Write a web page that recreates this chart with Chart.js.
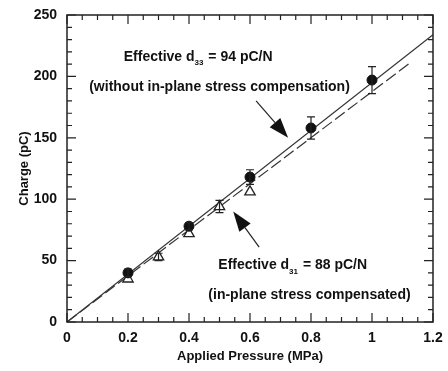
<!DOCTYPE html>
<html>
<head>
<meta charset="utf-8">
<script src="https://cdn.jsdelivr.net/npm/chart.js@4/dist/chart.umd.min.js"></script>
<style>
  html, body { margin: 0; padding: 0; background: #fff; }
  #wrap { width: 448px; height: 371px; }
</style>
</head>
<body>
<div id="wrap"><canvas id="chart"></canvas></div>
<script>
const circPressure = [0.2, 0.4, 0.6, 0.8, 1.0];
const circCharge = [40, 78, 118, 158, 197];
const circErr = [3, 3, 6, 9, 11];

const triPressure = [0.2, 0.3, 0.4, 0.5, 0.6];
const triCharge = [35, 53, 72, 94, 106];
const triErr = [0, 3, 0, 5, 0];

// fitted lines (end points)
const fitSolidX = [0, 1.2];
const fitSolidY = [0, 234];
const fitDashedX = [0, 1.13];
const fitDashedY = [0, 212];

const xTicks = [0, 0.2, 0.4, 0.6, 0.8, 1, 1.2];
const yTicks = [0, 50, 100, 150, 200, 250];

const notes = [
    { x: 0.43, y: 216, pre: 'Effective d', sub: '33', post: ' = 94 pC/N' },
    { x: 0.50, y: 191, pre: '(without in-plane stress compensation)' },
    { x: 0.74, y: 46, pre: 'Effective d', sub: '31', post: ' = 88 pC/N' },
    { x: 0.795, y: 22, pre: '(in-plane stress compensated)' },
];
const arrows = [
    { x1: 0.62, y1: 180, x2: 0.725, y2: 150 },
    { x1: 0.63, y1: 61, x2: 0.545, y2: 90 },
];

const toPoints = (xs, ys) => xs.map((x, i) => ({ x, y: ys[i] }));
const FONT = '"Liberation Sans", Arial, sans-serif';

const framePlugin = {
    id: 'frame',
    afterDatasetsDraw(chart) {
        const { ctx, chartArea: a, scales: { x, y } } = chart;
        ctx.save();
        ctx.strokeStyle = '#222';
        ctx.fillStyle = '#111';

        // error bars
        ctx.lineWidth = 1.2;
        const bar = (px, py, e) => {
            if (!e) return;
            const cx = x.getPixelForValue(px);
            const t = y.getPixelForValue(py + e), b = y.getPixelForValue(py - e);
            ctx.beginPath();
            ctx.moveTo(cx, t); ctx.lineTo(cx, b);
            ctx.moveTo(cx - 4, t); ctx.lineTo(cx + 4, t);
            ctx.moveTo(cx - 4, b); ctx.lineTo(cx + 4, b);
            ctx.stroke();
        };
        circPressure.forEach((p, i) => bar(p, circCharge[i], circErr[i]));
        triPressure.forEach((p, i) => bar(p, triCharge[i], triErr[i]));

        // frame and inward ticks on all sides
        ctx.lineWidth = 1.5;
        ctx.strokeRect(a.left, a.top, a.right - a.left, a.bottom - a.top);
        ctx.lineWidth = 1.2;
        ctx.beginPath();
        for (let v = 0; v <= 1.2001; v += 0.05) {
            const px = x.getPixelForValue(v);
            const major = Math.abs(v / 0.2 - Math.round(v / 0.2)) < 1e-6;
            const len = major ? 9 : 5;
            ctx.moveTo(px, a.bottom); ctx.lineTo(px, a.bottom - len);
            ctx.moveTo(px, a.top); ctx.lineTo(px, a.top + len);
        }
        for (let v = 0; v <= 250; v += 10) {
            const py = y.getPixelForValue(v);
            const len = v % 50 === 0 ? 9 : 5;
            ctx.moveTo(a.left, py); ctx.lineTo(a.left + len, py);
            ctx.moveTo(a.right, py); ctx.lineTo(a.right - len, py);
        }
        ctx.stroke();

        // arrows
        arrows.forEach(ar => {
            const x1 = x.getPixelForValue(ar.x1), y1 = y.getPixelForValue(ar.y1);
            const x2 = x.getPixelForValue(ar.x2), y2 = y.getPixelForValue(ar.y2);
            const ang = Math.atan2(y2 - y1, x2 - x1);
            const hl = 20, hw = 7;
            const bx = x2 - hl * Math.cos(ang), by = y2 - hl * Math.sin(ang);
            ctx.lineWidth = 1.2;
            ctx.beginPath();
            ctx.moveTo(x1, y1); ctx.lineTo(bx, by);
            ctx.stroke();
            ctx.beginPath();
            ctx.moveTo(x2, y2);
            ctx.lineTo(bx + hw * Math.sin(ang), by - hw * Math.cos(ang));
            ctx.lineTo(bx - hw * Math.sin(ang), by + hw * Math.cos(ang));
            ctx.closePath();
            ctx.fill();
        });

        // annotations
        ctx.textBaseline = 'middle';
        notes.forEach(n => {
            const main = 'bold 14px ' + FONT, small = 'bold 8px ' + FONT;
            ctx.font = main;
            const w1 = ctx.measureText(n.pre).width;
            const w3 = n.post ? ctx.measureText(n.post).width : 0;
            ctx.font = small;
            const w2 = n.sub ? ctx.measureText(n.sub).width + 1 : 0;
            let cx = x.getPixelForValue(n.x) - (w1 + w2 + w3) / 2;
            const cy = y.getPixelForValue(n.y);
            ctx.textAlign = 'left';
            ctx.font = main;
            ctx.fillText(n.pre, cx, cy);
            cx += w1;
            if (n.sub) {
                ctx.font = small;
                ctx.fillText(n.sub, cx, cy + 6);
                cx += w2;
                ctx.font = main;
                ctx.fillText(n.post, cx, cy);
            }
        });
        ctx.restore();
    }
};

new Chart(document.getElementById('chart'), {
    type: 'scatter',
    data: {
        datasets: [
            {
                label: 'without in-plane stress compensation',
                data: toPoints(circPressure, circCharge),
                pointStyle: 'circle',
                pointRadius: 5,
                backgroundColor: '#111',
                borderColor: '#111',
            },
            {
                label: 'in-plane stress compensated',
                data: toPoints(triPressure, triCharge),
                pointStyle: 'triangle',
                pointRadius: 6,
                backgroundColor: '#fff',
                borderColor: '#222',
                borderWidth: 1.3,
            },
            {
                label: 'fit 94 pC/N',
                type: 'line',
                data: toPoints(fitSolidX, fitSolidY),
                borderColor: '#333',
                borderWidth: 1.2,
                pointRadius: 0,
            },
            {
                label: 'fit 88 pC/N',
                type: 'line',
                data: toPoints(fitDashedX, fitDashedY),
                borderColor: '#333',
                borderWidth: 1.2,
                borderDash: [12, 4],
                pointRadius: 0,
            },
        ],
    },
    options: {
        responsive: true,
        maintainAspectRatio: false,
        animation: false,
        layout: { padding: { left: 0, top: 15, right: 15, bottom: 0 } },
        plugins: {
            legend: { display: false },
            tooltip: { enabled: false },
        },
        scales: {
            x: {
                type: 'linear',
                min: 0,
                max: 1.2,
                afterFit: s => { s.height = 49; },
                afterBuildTicks: s => { s.ticks = xTicks.map(v => ({ value: v })); },
                grid: { display: false },
                border: { display: false },
                ticks: {
                    color: '#111',
                    padding: 0,
                    font: { family: FONT, size: 14, weight: 'bold' },
                    callback: v => String(v),
                },
                title: {
                    display: true,
                    text: 'Applied Pressure (MPa)',
                    color: '#111',
                    padding: { top: 0, bottom: 7 },
                    font: { family: FONT, size: 13, weight: 'bold' },
                },
            },
            y: {
                min: 0,
                max: 250,
                afterFit: s => { s.width = 67; },
                afterBuildTicks: s => { s.ticks = yTicks.map(v => ({ value: v })); },
                grid: { display: false },
                border: { display: false },
                ticks: {
                    color: '#111',
                    padding: 2,
                    font: { family: FONT, size: 14, weight: 'bold' },
                },
                title: {
                    display: true,
                    text: 'Charge (pC)',
                    color: '#111',
                    padding: { top: 17, bottom: 0 },
                    font: { family: FONT, size: 13, weight: 'bold' },
                },
            },
        },
    },
    plugins: [framePlugin],
});
</script>
</body>
</html>
